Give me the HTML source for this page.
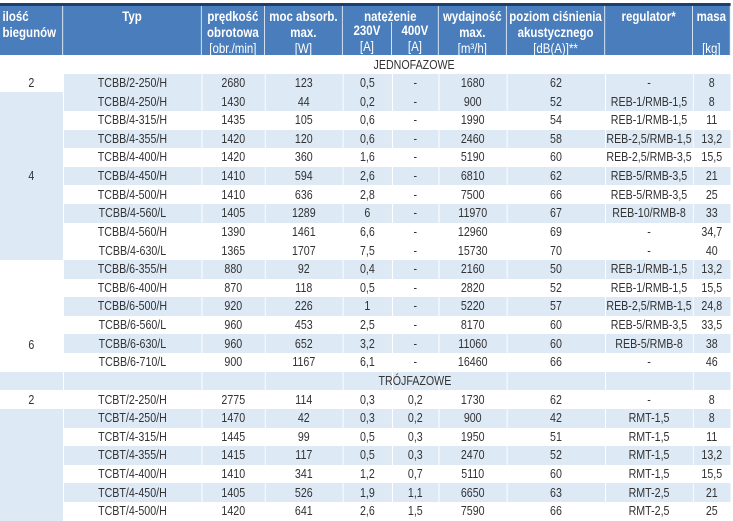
<!DOCTYPE html>
<html><head><meta charset="utf-8"><style>
body{margin:0;width:733px;height:521px;background:#fff;position:relative;overflow:hidden;font-family:"Liberation Sans",sans-serif;}
#w{position:absolute;left:0;top:0;width:892px;height:521px;transform:scaleX(0.82);transform-origin:0 0}
.top{position:absolute;left:0;top:3px;width:891px;height:3px;background:#1c3f6e}
.hd{position:absolute;top:6px;height:49px;background:#4a7dbb;color:#fff;font-weight:bold;font-size:14px;line-height:16px;text-align:center;box-sizing:border-box;border-right:1px solid #fff;padding-top:2px;white-space:nowrap}
.hd .n{font-weight:normal}
table{position:absolute;left:0;top:55px;border-collapse:collapse;table-layout:fixed;width:891px}
td{height:18.64px;padding:0;font-size:13px;color:#333;text-align:center;border-right:1px solid #fff;line-height:14px;white-space:nowrap;overflow:hidden}
tr.b td{background:#dde9f5}
td.w{background:#fff!important}
td.lb{background:#dde9f5!important}
.lbl{position:absolute;font-size:13px;color:#333;width:120px;text-align:center}
</style></head><body><div id="w">
<div class="top"></div>
<div class="hd" style="left:0;width:77px;text-align:left;padding-left:3px">ilość<br>biegunów</div>
<div class="hd" style="left:77px;width:169px">Typ</div>
<div class="hd" style="left:246px;width:77px">prędkość<br>obrotowa<br><span class="n">[obr./min]</span></div>
<div class="hd" style="left:323px;width:95px">moc absorb.<br>max.<br><span class="n">[W]</span></div>
<div class="hd" style="left:418px;width:117px;height:17px">natężenie</div>
<div class="hd" style="left:418px;top:22px;height:33px;width:60px;padding-top:0">230V<br><span class="n">[A]</span></div>
<div class="hd" style="left:478px;top:22px;height:33px;width:57px;padding-top:0">400V<br><span class="n">[A]</span></div>
<div class="hd" style="left:535px;width:83px">wydajność<br>max.<br><span class="n">[m³/h]</span></div>
<div class="hd" style="left:618px;width:120px">poziom ciśnienia<br>akustycznego<br><span class="n">[dB(A)]**</span></div>
<div class="hd" style="left:738px;width:107px">regulator*</div>
<div class="hd" style="left:845px;width:46px">masa<br><br><span class="n">[kg]</span></div>
<table>
<colgroup><col style="width:77px"><col style="width:169px"><col style="width:77px"><col style="width:95px"><col style="width:60px"><col style="width:57px"><col style="width:83px"><col style="width:120px"><col style="width:107px"><col style="width:46px"></colgroup>
<tr><td colspan="10"></td></tr>
<tr class="b"><td class="w">2</td><td>TCBB/2-250/H</td><td>2680</td><td>123</td><td>0,5</td><td>-</td><td>1680</td><td>62</td><td>-</td><td>8</td></tr>
<tr class="b"><td class="lb" rowspan="9">4</td><td>TCBB/4-250/H</td><td>1430</td><td>44</td><td>0,2</td><td>-</td><td>900</td><td>52</td><td>REB-1/RMB-1,5</td><td>8</td></tr>
<tr><td>TCBB/4-315/H</td><td>1435</td><td>105</td><td>0,6</td><td>-</td><td>1990</td><td>54</td><td>REB-1/RMB-1,5</td><td>11</td></tr>
<tr class="b"><td>TCBB/4-355/H</td><td>1420</td><td>120</td><td>0,6</td><td>-</td><td>2460</td><td>58</td><td>REB-2,5/RMB-1,5</td><td>13,2</td></tr>
<tr><td>TCBB/4-400/H</td><td>1420</td><td>360</td><td>1,6</td><td>-</td><td>5190</td><td>60</td><td>REB-2,5/RMB-3,5</td><td>15,5</td></tr>
<tr class="b"><td>TCBB/4-450/H</td><td>1410</td><td>594</td><td>2,6</td><td>-</td><td>6810</td><td>62</td><td>REB-5/RMB-3,5</td><td>21</td></tr>
<tr><td>TCBB/4-500/H</td><td>1410</td><td>636</td><td>2,8</td><td>-</td><td>7500</td><td>66</td><td>REB-5/RMB-3,5</td><td>25</td></tr>
<tr class="b"><td>TCBB/4-560/L</td><td>1405</td><td>1289</td><td>6</td><td>-</td><td>11970</td><td>67</td><td>REB-10/RMB-8</td><td>33</td></tr>
<tr><td>TCBB/4-560/H</td><td>1390</td><td>1461</td><td>6,6</td><td>-</td><td>12960</td><td>69</td><td>-</td><td>34,7</td></tr>
<tr><td>TCBB/4-630/L</td><td>1365</td><td>1707</td><td>7,5</td><td>-</td><td>15730</td><td>70</td><td>-</td><td>40</td></tr>
<tr class="b"><td class="w" rowspan="6" style="vertical-align:bottom;padding-bottom:20px">6</td><td>TCBB/6-355/H</td><td>880</td><td>92</td><td>0,4</td><td>-</td><td>2160</td><td>50</td><td>REB-1/RMB-1,5</td><td>13,2</td></tr>
<tr><td>TCBB/6-400/H</td><td>870</td><td>118</td><td>0,5</td><td>-</td><td>2820</td><td>52</td><td>REB-1/RMB-1,5</td><td>15,5</td></tr>
<tr class="b"><td>TCBB/6-500/H</td><td>920</td><td>226</td><td>1</td><td>-</td><td>5220</td><td>57</td><td>REB-2,5/RMB-1,5</td><td>24,8</td></tr>
<tr><td>TCBB/6-560/L</td><td>960</td><td>453</td><td>2,5</td><td>-</td><td>8170</td><td>60</td><td>REB-5/RMB-3,5</td><td>33,5</td></tr>
<tr class="b"><td>TCBB/6-630/L</td><td>960</td><td>652</td><td>3,2</td><td>-</td><td>11060</td><td>60</td><td>REB-5/RMB-8</td><td>38</td></tr>
<tr><td>TCBB/6-710/L</td><td>900</td><td>1167</td><td>6,1</td><td>-</td><td>16460</td><td>66</td><td>-</td><td>46</td></tr>
<tr class="b"><td></td><td></td><td></td><td></td><td></td><td></td><td></td><td></td><td></td><td></td></tr>
<tr><td>2</td><td>TCBT/2-250/H</td><td>2775</td><td>114</td><td>0,3</td><td>0,2</td><td>1730</td><td>62</td><td>-</td><td>8</td></tr>
<tr class="b"><td class="lb" rowspan="7"></td><td>TCBT/4-250/H</td><td>1470</td><td>42</td><td>0,3</td><td>0,2</td><td>900</td><td>42</td><td>RMT-1,5</td><td>8</td></tr>
<tr><td>TCBT/4-315/H</td><td>1445</td><td>99</td><td>0,5</td><td>0,3</td><td>1950</td><td>51</td><td>RMT-1,5</td><td>11</td></tr>
<tr class="b"><td>TCBT/4-355/H</td><td>1415</td><td>117</td><td>0,5</td><td>0,3</td><td>2470</td><td>52</td><td>RMT-1,5</td><td>13,2</td></tr>
<tr><td>TCBT/4-400/H</td><td>1410</td><td>341</td><td>1,2</td><td>0,7</td><td>5110</td><td>60</td><td>RMT-1,5</td><td>15,5</td></tr>
<tr class="b"><td>TCBT/4-450/H</td><td>1405</td><td>526</td><td>1,9</td><td>1,1</td><td>6650</td><td>63</td><td>RMT-2,5</td><td>21</td></tr>
<tr><td>TCBT/4-500/H</td><td>1420</td><td>641</td><td>2,6</td><td>1,5</td><td>7590</td><td>66</td><td>RMT-2,5</td><td>25</td></tr>
</table>
<div class="lbl" style="left:445px;top:57px">JEDNOFAZOWE</div>
<div class="lbl" style="left:446px;top:373px">TRÓJFAZOWE</div>
</div></body></html>
